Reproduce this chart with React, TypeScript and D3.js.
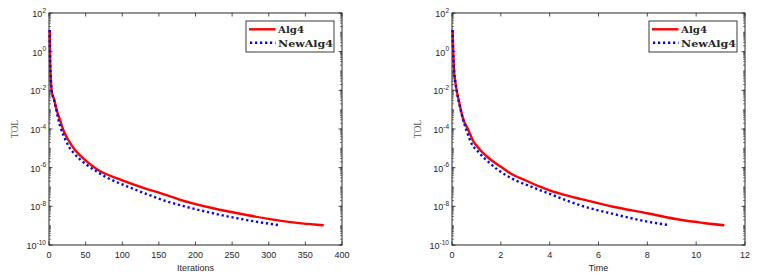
import React from "react";
import * as d3 from "d3";

// ---- data (log10 of TOL) ----
const iterAlg4X = [1, 1.5, 2.2, 3.6, 7.2, 10.5, 15, 19.5, 26.4, 35.5, 49, 67, 95, 131, 155, 178, 224, 270, 315, 345, 375];
const iterAlg4LogY = [1.12, -0.4, -1.2, -2.0, -2.5, -3.02, -3.53, -4.05, -4.57, -5.09, -5.6, -6.12, -6.58, -7.07, -7.35, -7.65, -8.1, -8.45, -8.74, -8.88, -8.98];
const iterNewX = [1, 1.5, 2.2, 3.6, 7.2, 10.5, 12.7, 16, 21.8, 27, 33.2, 49, 63, 77, 86, 108, 131, 154, 179, 224, 270, 313];
const iterNewLogY = [1.12, -0.4, -1.2, -2.0, -2.55, -3.1, -3.5, -3.95, -4.5, -4.9, -5.22, -5.78, -6.15, -6.47, -6.64, -6.99, -7.33, -7.66, -7.94, -8.36, -8.71, -8.97];

const timeAlg4X = [0.02, 0.05, 0.08, 0.13, 0.19, 0.3, 0.45, 0.67, 0.86, 1.0, 1.5, 2.0, 2.4, 3.0, 3.6, 4.0, 4.6, 5.3, 6.6, 8.0, 9.4, 10.3, 11.15];
const timeAlg4LogY = [1.12, 0, -0.9, -1.5, -2.0, -2.65, -3.45, -4.05, -4.6, -4.85, -5.5, -5.95, -6.3, -6.65, -6.98, -7.18, -7.41, -7.63, -8.02, -8.36, -8.71, -8.86, -8.98];
const timeNewX = [0.02, 0.05, 0.08, 0.13, 0.19, 0.3, 0.45, 0.6, 0.8, 1.07, 1.48, 1.89, 2.58, 3.26, 3.95, 4.6, 5.26, 6.63, 8.0, 8.89];
const timeNewLogY = [1.12, 0, -0.9, -1.5, -2.0, -2.7, -3.5, -4.1, -4.75, -5.18, -5.69, -6.12, -6.64, -6.99, -7.33, -7.65, -7.95, -8.4, -8.79, -8.97];

const iterTicks = [0, 50, 100, 150, 200, 250, 300, 350, 400];
const timeTicks = [0, 2, 4, 6, 8, 10, 12];
const yLabelExps = [2, 0, -2, -4, -6, -8, -10];
const seriesNames = ["Alg4", "NewAlg4"];

const AX = "#262626";

type PanelProps = {
  left: number;
  xMax: number;
  xTicks: number[];
  xTitle: string;
  a: { x: number[]; y: number[] };
  b: { x: number[]; y: number[] };
};

function Panel({ left, xMax, xTicks, xTitle, a, b }: PanelProps) {
  const top = 13;
  const bottom = 245;
  const width = 293;
  const x = d3.scaleLinear().domain([0, xMax]).range([left, left + width]);
  const y = d3.scaleLog().domain([1e-10, 1e2]).range([bottom, top]);
  const line = d3
    .line<[number, number]>()
    .x((d) => x(d[0]))
    .y((d) => y(Math.pow(10, d[1])))
    .curve(d3.curveMonotoneX);
  const pa = a.x.map((v, i) => [v, a.y[i]] as [number, number]);
  const pb = b.x.map((v, i) => [v, b.y[i]] as [number, number]);

  const minor: number[] = [];
  for (let e = -10; e < 2; e++) {
    for (let k = 1; k < 10; k++) minor.push(k * Math.pow(10, e));
  }
  const right = left + width;
  const lgX = right - 96;

  return (
    <g>
      {minor.map((v, i) => (
        <g key={"m" + i} stroke={AX} strokeWidth={0.6}>
          <line x1={left} x2={left + 2} y1={y(v)} y2={y(v)} />
          <line x1={right} x2={right - 2} y1={y(v)} y2={y(v)} />
        </g>
      ))}
      {yLabelExps.map((e) => (
        <g key={"y" + e}>
          <line x1={left} x2={left + 3.5} y1={y(Math.pow(10, e))} y2={y(Math.pow(10, e))} stroke={AX} strokeWidth={0.8} />
          <line x1={right} x2={right - 3.5} y1={y(Math.pow(10, e))} y2={y(Math.pow(10, e))} stroke={AX} strokeWidth={0.8} />
          <text
            x={left - 3}
            y={y(Math.pow(10, e)) + 4}
            textAnchor="end"
            fontFamily="Liberation Sans, Arial, sans-serif"
            fontSize={9}
            fill={AX}
          >
            10
            <tspan dy={-4.5} fontSize={6.5}>
              {String(e)}
            </tspan>
          </text>
        </g>
      ))}
      {xTicks.map((t) => (
        <g key={"x" + t}>
          <line x1={x(t)} x2={x(t)} y1={bottom} y2={bottom - 3.5} stroke={AX} strokeWidth={0.8} />
          <line x1={x(t)} x2={x(t)} y1={top} y2={top + 3.5} stroke={AX} strokeWidth={0.8} />
          <text
            x={x(t)}
            y={257.5}
            textAnchor="middle"
            fontFamily="Liberation Sans, Arial, sans-serif"
            fontSize={9}
            fill={AX}
          >
            {t}
          </text>
        </g>
      ))}
      <rect x={left} y={top} width={width} height={bottom - top} fill="none" stroke={AX} strokeWidth={1} />
      <text
        x={left + width / 2}
        y={270.5}
        textAnchor="middle"
        fontFamily="Liberation Sans, Arial, sans-serif"
        fontSize={9}
        fill={AX}
      >
        {xTitle}
      </text>
      <text
        transform={`translate(${left - 31},${(top + bottom) / 2}) rotate(-90)`}
        textAnchor="middle"
        fontFamily="Liberation Serif, serif"
        fontSize={9.5}
        fill="#555"
      >
        TOL
      </text>
      <path d={line(pa) || ""} fill="none" stroke="#ff0000" strokeWidth={2.4} />
      <path d={line(pb) || ""} fill="none" stroke="#0000ff" strokeWidth={2.4} strokeDasharray="2.2 2.8" />
      <rect x={lgX} y={21} width={88} height={31} fill="#fff" stroke={AX} strokeWidth={0.9} />
      <line x1={lgX + 3} x2={lgX + 29.5} y1={29.3} y2={29.3} stroke="#ff0000" strokeWidth={2.4} />
      <line x1={lgX + 4} x2={lgX + 29.5} y1={42.7} y2={42.7} stroke="#0000ff" strokeWidth={2.4} strokeDasharray="2.2 2.8" />
      <text x={lgX + 32} y={33} fontFamily="DejaVu Serif, serif" fontWeight="bold" fontSize={10} fill={AX} textLength={26} lengthAdjust="spacingAndGlyphs">
        {seriesNames[0]}
      </text>
      <text x={lgX + 32} y={47} fontFamily="DejaVu Serif, serif" fontWeight="bold" fontSize={10} fill={AX} textLength={55} lengthAdjust="spacingAndGlyphs">
        {seriesNames[1]}
      </text>
    </g>
  );
}

export default function App() {
  return (
    <svg
      width={783}
      height={278}
      style={{ position: "absolute", left: 0, top: 0, background: "#fff" }}
    >
      <rect width={783} height={278} fill="#fff" />
      <Panel
        left={49}
        xMax={400}
        xTicks={iterTicks}
        xTitle="Iterations"
        a={{ x: iterAlg4X, y: iterAlg4LogY }}
        b={{ x: iterNewX, y: iterNewLogY }}
      />
      <Panel
        left={452}
        xMax={12}
        xTicks={timeTicks}
        xTitle="Time"
        a={{ x: timeAlg4X, y: timeAlg4LogY }}
        b={{ x: timeNewX, y: timeNewLogY }}
      />
    </svg>
  );
}
